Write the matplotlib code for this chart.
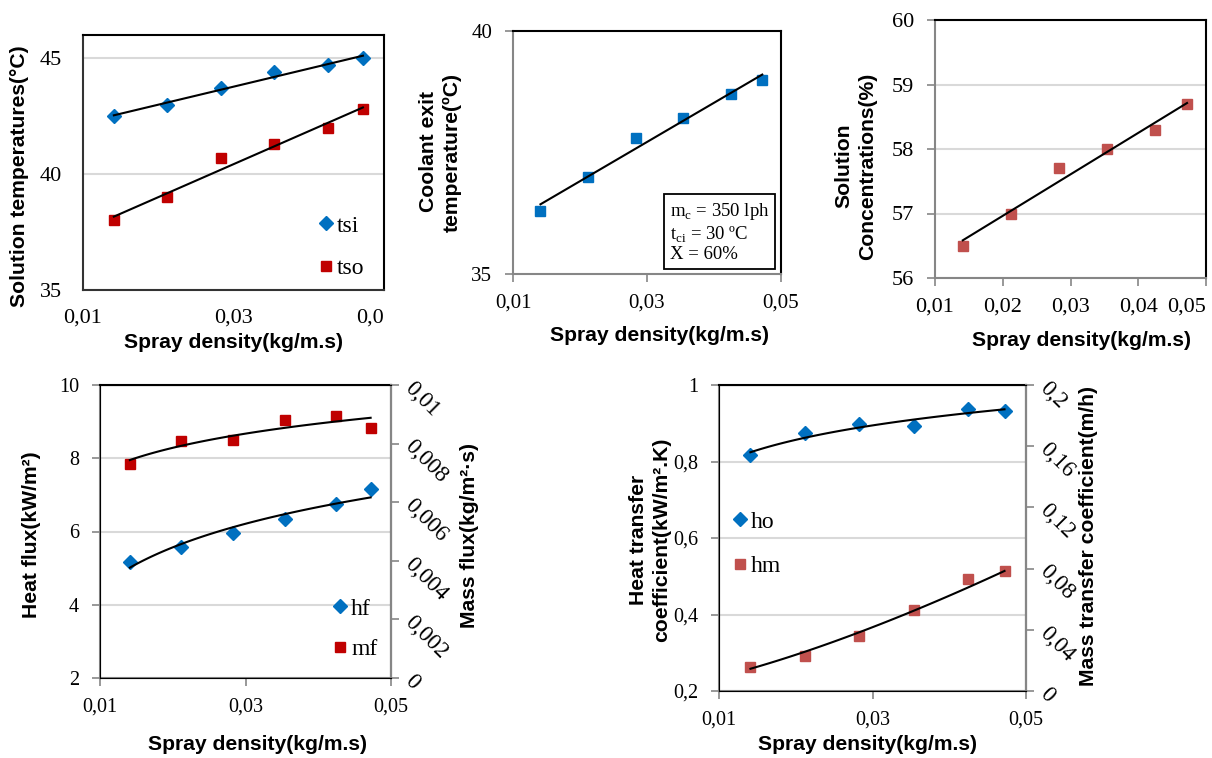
import numpy as np
import matplotlib
matplotlib.use("Agg")
from matplotlib import pyplot as plt

# spray density (kg/m.s), shared by all panels
x = np.array([0.0141, 0.0212, 0.0283, 0.0354, 0.0425, 0.0472])

# a) solution temperatures
tsi = [42.5, 43.0, 43.7, 44.4, 44.7, 45.0]
tso = [38.0, 39.0, 40.7, 41.3, 42.0, 42.8]
# b) coolant exit temperature
tco = [36.3, 37.0, 37.8, 38.2, 38.7, 39.0]
# c) solution concentration
conc = [56.5, 57.0, 57.7, 58.0, 58.3, 58.7]
# d) heat flux / mass flux
hf = [5.17, 5.57, 5.96, 6.35, 6.75, 7.16]
mf = [0.00732, 0.00808, 0.00812, 0.00881, 0.00894, 0.00854]
# e) heat / mass transfer coefficient
ho = [0.816, 0.874, 0.897, 0.893, 0.936, 0.932]
hm = [0.0159, 0.0231, 0.0361, 0.0527, 0.0730, 0.0786]

xt3 = [0.01, 0.03, 0.05]
xt3_lab = ["0,01", "0,03", "0,05"]
xt5 = [0.01, 0.02, 0.03, 0.04, 0.05]
xt5_lab = ["0,01", "0,02", "0,03", "0,04", "0,05"]

W, H = 1212, 758
BLUE = "#0070C0"
RED = "#C00000"
RED2 = "#C0504D"
GRID = "#D9D9D9"
SPINE = "#868686"
SERIF = "Liberation Serif"
SANS = "Liberation Sans"
LABFS = 15.2
LEGFS = 17

plt.rcParams["font.family"] = SERIF
plt.rcParams["mathtext.fontset"] = "custom"
plt.rcParams["mathtext.rm"] = SERIF

fig = plt.figure(figsize=(W / 100, H / 100), dpi=100)


def axes_px(l, t, r, b):
    return fig.add_axes([l / W, 1 - b / H, (r - l) / W, (b - t) / H])


def label_px(cx, cy, s, rot=0):
    fig.text(cx / W, 1 - cy / H, s, ha="center", va="center", rotation=rot,
             family=SANS, weight="bold", fontsize=LABFS, linespacing=1.3)


def legend_px(ax, handles, left, top, spacing):
    # left/top of the legend box in pixels of the figure
    ax.legend(handles=handles, loc="upper left", bbox_to_anchor=(left / W, 1 - top / H),
              bbox_transform=fig.transFigure, frameon=False, fontsize=LEGFS,
              borderpad=0, borderaxespad=0, handlelength=0.8, handletextpad=0.05,
              labelspacing=spacing)


def style(ax, fs, ticks=True):
    ax.set_facecolor("white")
    for s in ["top", "right"]:
        ax.spines[s].set_color("black")
    for s in ["left", "bottom"]:
        ax.spines[s].set_color(SPINE)
    for s in ax.spines.values():
        s.set_linewidth(1.5)
    if ticks:
        ax.tick_params(labelsize=fs, colors=SPINE, labelcolor="black",
                       length=6, width=1.2)
        ax.tick_params(axis="y", pad=9)
        ax.tick_params(axis="x", pad=8)
    else:
        ax.tick_params(labelsize=fs, labelcolor="black", length=0)
        ax.tick_params(axis="y", pad=15)
        ax.tick_params(axis="x", pad=13)
    ax.yaxis.grid(True, color=GRID, lw=1.5)
    ax.set_axisbelow(True)


def twin_style(ax2, ticks, labels):
    ax2.set_yticks(ticks)
    ax2.set_yticklabels(labels)
    ax2.tick_params(axis="y", labelsize=16.5, colors=SPINE, labelcolor="black",
                    length=6, width=1.2, pad=6)
    ax2.spines["right"].set_color(SPINE)
    ax2.spines["right"].set_linewidth(1.5)
    for lab in ax2.get_yticklabels():
        lab.set_rotation(-45)
        lab.set_rotation_mode("anchor")
        lab.set_ha("left")
        lab.set_va("center")


xs = np.linspace(x[0], x[-1], 100)


def lin(y):
    return np.polyval(np.polyfit(x, y, 1), xs)


def logfit(y):
    return np.polyval(np.polyfit(np.log(x), y, 1), np.log(xs))


def powfit(y):
    return np.exp(np.polyval(np.polyfit(np.log(x), np.log(y), 1), np.log(xs)))


# ---- a) solution temperatures
ax = axes_px(83, 35, 384, 290)
style(ax, 16, ticks=False)
for s in ["left", "bottom"]:
    ax.spines[s].set_color("#333333")
h1, = ax.plot(x, tsi, "D", color=BLUE, ms=7.5, label="tsi")
h2, = ax.plot(x, tso, "s", color=RED, ms=7.5, label="tso")
ax.plot(xs, lin(tsi), color="black", lw=1.5, zorder=5)
ax.plot(xs, lin(tso), color="black", lw=1.5, zorder=5)
ax.set_xlim(0.01, 0.05)
ax.set_ylim(35, 46)
ax.set_yticks([35, 40, 45])
ax.set_xticks(xt3)
ax.set_xticklabels(["0,01", "0,03", "0,0"])
ax.get_xticklabels()[-1].set_ha("right")
legend_px(ax, [h1, h2], 317, 215, 0.88)
label_px(20, 176, "Solution temperatures(°C)", 90)
label_px(233, 343, "Spray density(kg/m.s)")

# ---- b) coolant exit temperature
ax = axes_px(513, 31, 781, 274)
style(ax, 15)
ax.yaxis.grid(False)
ax.plot(x, tco, "s", color=BLUE, ms=7.5)
ax.plot(xs, lin(tco), color="black", lw=1.5, zorder=5)
ax.set_xlim(0.01, 0.05)
ax.set_ylim(35, 40)
ax.set_yticks([35, 40])
ax.set_xticks(xt3)
ax.set_xticklabels(xt3_lab)
ax.text(0.585, 0.045, "m$_\\mathrm{c}$ = 350 lph\nt$_\\mathrm{ci}$ = 30 ºC\nX = 60%",
        transform=ax.transAxes, ha="left", va="bottom", fontsize=13.5, linespacing=1.12,
        bbox=dict(boxstyle="square,pad=0.3", fc="white", ec="black", lw=1.3))
label_px(440, 152, "Coolant exit\ntemperature(ºC)", 90)
label_px(660, 335, "Spray density(kg/m.s)")

# ---- c) solution concentrations
ax = axes_px(935, 20, 1206, 278)
style(ax, 16)
ax.plot(x, conc, "s", color=RED2, ms=7.5)
ax.plot(xs, lin(conc), color="black", lw=1.5, zorder=5)
ax.set_xlim(0.01, 0.05)
ax.set_ylim(56, 60)
ax.set_yticks([56, 57, 58, 59, 60])
ax.set_xticks(xt5)
ax.set_xticklabels(xt5_lab)
ax.get_xticklabels()[-1].set_ha("right")
label_px(856, 166, "Solution\nConcentrations(%)", 90)
label_px(1082, 340, "Spray density(kg/m.s)")

# ---- d) heat flux / mass flux
ax = axes_px(100, 385, 391, 678)
style(ax, 14.5)
ax2 = ax.twinx()
h1, = ax.plot(x, hf, "D", color=BLUE, ms=7.5, label="hf")
h2, = ax2.plot(x, mf, "s", color=RED, ms=7.5, label="mf")
ax.plot(xs, logfit(hf), color="black", lw=1.5, zorder=5)
ax2.plot(xs, logfit(mf), color="black", lw=1.5, zorder=5)
ax.set_xlim(0.01, 0.05)
ax.set_ylim(2, 10)
ax.set_yticks([2, 4, 6, 8, 10])
ax.set_xticks(xt3)
ax.set_xticklabels(xt3_lab)
ax2.set_ylim(0, 0.01)
twin_style(ax2, [0, 0.002, 0.004, 0.006, 0.008, 0.01],
           ["0", "0,002", "0,004", "0,006", "0,008", "0,01"])
legend_px(ax2, [h1, h2], 331, 598, 0.8)
label_px(32, 535, "Heat flux(kW/m²)", 90)
label_px(470, 535, "Mass flux(kg/m²·s)", 90)
label_px(258, 745, "Spray density(kg/m.s)")

# ---- e) heat / mass transfer coefficients
ax = axes_px(719, 385, 1026, 691)
style(ax, 14.5)
ax2 = ax.twinx()
h1, = ax.plot(x, ho, "D", color=BLUE, ms=7.5, label="ho")
h2, = ax2.plot(x, hm, "s", color=RED2, ms=7.5, label="hm")
ax.plot(xs, logfit(ho), color="black", lw=1.5, zorder=5)
ax2.plot(xs, powfit(hm), color="black", lw=1.5, zorder=5)
ax.set_xlim(0.01, 0.05)
ax.set_ylim(0.2, 1.0)
ax.set_yticks([0.2, 0.4, 0.6, 0.8, 1.0])
ax.set_yticklabels(["0,2", "0,4", "0,6", "0,8", "1"])
ax.set_xticks(xt3)
ax.set_xticklabels(xt3_lab)
ax2.set_ylim(0, 0.2)
twin_style(ax2, [0, 0.04, 0.08, 0.12, 0.16, 0.2],
           ["0", "0,04", "0,08", "0,12", "0,16", "0,2"])
legend_px(ax2, [h1, h2], 731, 511, 0.99)
label_px(650, 540, "Heat transfer\ncoefficient(kW/m².K)", 90)
label_px(1088, 536, "Mass transfer coefficient(m/h)", 90)
label_px(868, 745, "Spray density(kg/m.s)")

fig.savefig("out.png", dpi=100, facecolor="white")
